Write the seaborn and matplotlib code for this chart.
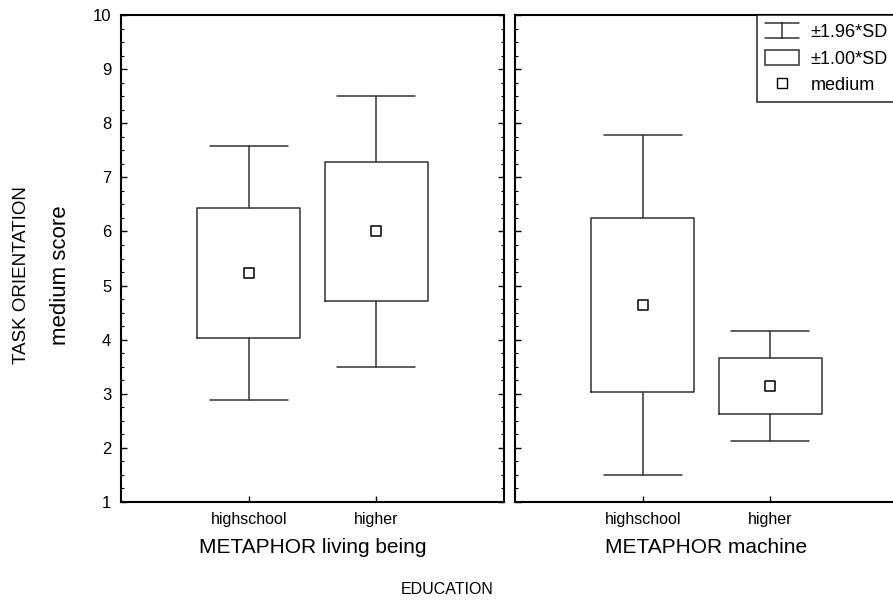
import numpy as np
import pandas as pd
import seaborn as sns
import matplotlib.pyplot as plt
from matplotlib.patches import Patch
from matplotlib.lines import Line2D
from matplotlib.ticker import MultipleLocator

# --- Data ---
PANELS = ["METAPHOR living being", "METAPHOR machine"]
EDUCATION = ["highschool", "higher"]
MEANS_LIVING = [5.23, 6.00]
SD_LIVING = [1.20, 1.28]
MEANS_MACHINE = [4.64, 3.15]
SD_MACHINE = [1.60, 0.52]
Y_TICKS = [1, 2, 3, 4, 5, 6, 7, 8, 9, 10]
LEGEND_LABELS = ["\u00b11.96*SD", "\u00b11.00*SD", "medium"]
OUTPUT_PNG_FILENAME = "out.png"

sns.set_theme(style="ticks")
plt.rcParams["font.family"] = ["Liberation Sans", "DejaVu Sans"]
for key in ["text.color", "axes.labelcolor", "xtick.color", "ytick.color",
            "axes.edgecolor"]:
    plt.rcParams[key] = "black"

LINE = "#333333"


class ErrorSymbolHandler:
    """Legend symbol: two caps joined by a vertical stem."""

    def legend_artist(self, legend, orig_handle, fontsize, handlebox):
        x0, y0 = -handlebox.xdescent, -handlebox.ydescent
        w, h = handlebox.width, handlebox.height
        top, bot = y0 + h, y0
        xs = [x0, x0 + w, np.nan, x0, x0 + w, np.nan, x0 + w / 2, x0 + w / 2]
        ys = [top, top, np.nan, bot, bot, np.nan, bot, top]
        line = Line2D(xs, ys, color=LINE, linewidth=1.1,
                      transform=handlebox.get_transform())
        handlebox.add_artist(line)
        return line


def make_stats(means, sds):
    stats = []
    for m, s in zip(means, sds):
        stats.append(dict(med=m, mean=m, q1=m - s, q3=m + s,
                          whislo=m - 1.96 * s, whishi=m + 1.96 * s, fliers=[]))
    return stats


def draw_panel(ax, means, sds, title):
    df = pd.DataFrame({"education": EDUCATION, "mean": means})
    ax.bxp(make_stats(means, sds), positions=[1, 2], widths=0.81,
           capwidths=0.61, showmeans=False, showfliers=False,
           boxprops=dict(color=LINE, linewidth=1.1),
           whiskerprops=dict(color=LINE, linewidth=1.1),
           capprops=dict(color=LINE, linewidth=1.1),
           medianprops=dict(linewidth=0))
    sns.scatterplot(data=df, x=[1, 2], y="mean", marker="s", s=55,
                    facecolor="white", edgecolor="black", linewidth=1.1,
                    ax=ax, zorder=5, legend=False)
    ax.set_xlim(0, 3)
    ax.set_ylim(1, 10)
    ax.set_xticks([1, 2])
    ax.set_xticklabels(EDUCATION, fontsize=11.5)
    ax.set_yticks(Y_TICKS)
    ax.yaxis.set_minor_locator(MultipleLocator(0.25))
    ax.tick_params(axis="both", which="major", direction="in", length=4,
                   width=1, color="black", left=True, right=True,
                   labelsize=12, pad=7)
    ax.tick_params(axis="x", labelsize=11.5)
    ax.tick_params(axis="y", which="minor", direction="in", length=2,
                   width=0.8, color="black", left=True, right=True)
    ax.tick_params(axis="x", which="minor", bottom=False)
    ax.set_xlabel(title, fontsize=15, labelpad=8)
    ax.set_ylabel("")
    for sp in ax.spines.values():
        sp.set_visible(True)
        sp.set_color("black")
        sp.set_linewidth(1.5)
    ax.set_facecolor("white")


fig = plt.figure(figsize=(8.93, 6.03), dpi=100)
ax1 = fig.add_axes([121 / 893, 101 / 603, 383 / 893, 487 / 603])
ax2 = fig.add_axes([515 / 893, 101 / 603, 383 / 893, 487 / 603])

draw_panel(ax1, MEANS_LIVING, SD_LIVING, PANELS[0])
draw_panel(ax2, MEANS_MACHINE, SD_MACHINE, PANELS[1])
ax2.tick_params(axis="y", which="both", labelleft=False, right=False)

fig.text(447 / 893, 1 - 590 / 603, "EDUCATION", ha="center", va="center",
         fontsize=11.5)
fig.text(22 / 893, 1 - 275 / 603, "TASK ORIENTATION", rotation=90,
         ha="center", va="center", fontsize=13.5)
fig.text(60 / 893, 1 - 275 / 603, "medium score", rotation=90,
         ha="center", va="center", fontsize=16)

err_handle = Line2D([], [])
handles = [
    err_handle,
    Patch(facecolor="white", edgecolor=LINE, linewidth=1.1),
    Line2D([], [], linestyle="none", marker="s", markersize=7,
           markerfacecolor="white", markeredgecolor="black"),
]
leg = fig.legend(handles, LEGEND_LABELS, loc="upper right",
                 bbox_to_anchor=(1.003, 1 - 15 / 603), borderaxespad=0,
                 frameon=True, fancybox=False, fontsize=13,
                 handlelength=1.9, handleheight=0.9, handletextpad=0.6,
                 labelspacing=0.5, borderpad=0.45,
                 handler_map={err_handle: ErrorSymbolHandler()})
leg.get_frame().set_edgecolor("black")
leg.get_frame().set_linewidth(1.2)

plt.savefig(OUTPUT_PNG_FILENAME, dpi=100)
